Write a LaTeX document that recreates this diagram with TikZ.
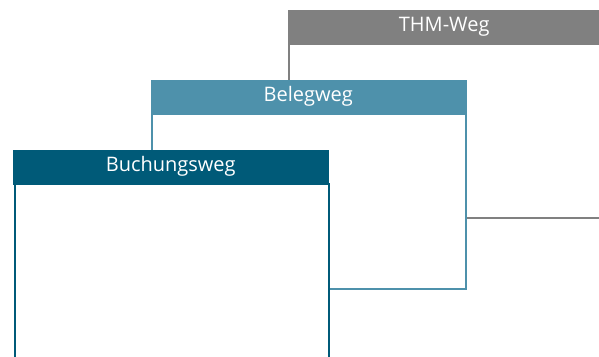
\documentclass[tikz,border=0pt]{standalone}
\usepackage{fontspec}
\setmainfont{Open Sans}
\usetikzlibrary{positioning}
\definecolor{thmgrau}{HTML}{808080}
\definecolor{belegblau}{HTML}{4E91AB}
\definecolor{buchungblau}{HTML}{005A78}
\tikzset{
  kopf/.style={fill=#1,draw=#1,text=white,minimum height=34pt,inner sep=0pt,anchor=north west,font=\fontsize{20}{24}\selectfont},
  rumpf/.style={fill=white,draw=#1,line width=2pt,inner sep=0pt,anchor=north west}
}
\begin{document}
\begin{tikzpicture}[x=1pt,y=-1pt]
		\useasboundingbox (0,0) rectangle (599,356);
		\clip (0,0) rectangle (599,356);
		% THM-Weg
		\node[rumpf=thmgrau,minimum width=330pt,minimum height=174pt] (thmbody) at (288,43) {};
		\node[kopf=thmgrau,minimum width=312pt] (thm) at (288,9.5) {\raisebox{-1pt}{THM-Weg}};
		% Belegweg
		\node[rumpf=belegblau,minimum width=314pt,minimum height=175pt] (belegbody) at (151,113) {};
		\node[kopf=belegblau,minimum width=315pt] (beleg) at (150.5,79.5) {\raisebox{-1pt}{Belegweg}};
		% Buchungsweg
		\node[rumpf=buchungblau,minimum width=314pt,minimum height=200pt] (buchungbody) at (13.5,183) {};
		\node[kopf=buchungblau,minimum width=315pt] (buchung) at (13,149.5) {\raisebox{-1pt}{Buchungsweg}};
\end{tikzpicture}
\end{document}
